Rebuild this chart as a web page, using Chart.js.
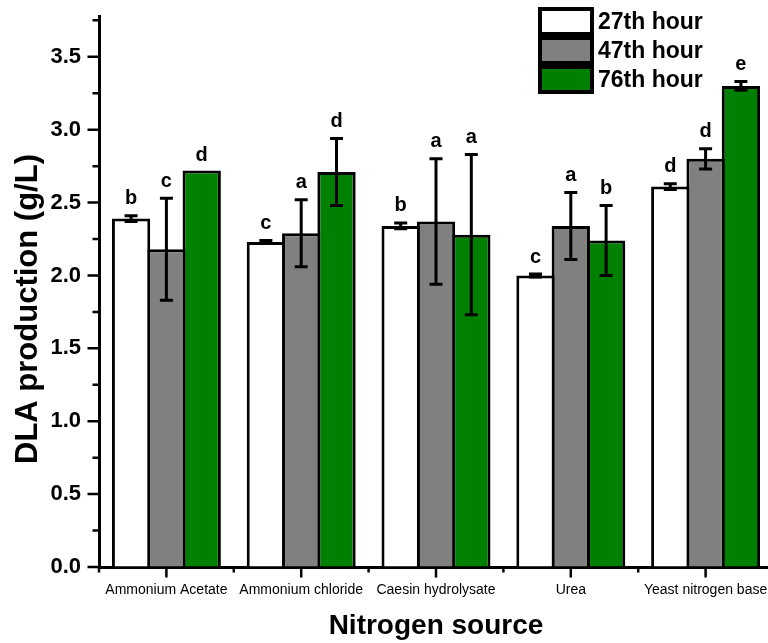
<!DOCTYPE html>
<html>
<head>
<meta charset="utf-8">
<script src="https://cdn.jsdelivr.net/npm/chart.js@4.4.1/dist/chart.umd.min.js"></script>
<style>
  html, body { margin: 0; padding: 0; background: #ffffff; overflow: hidden; }
  #wrap { position: relative; width: 780px; height: 643px; }
</style>
</head>
<body>
<div id="wrap"><canvas id="chart"></canvas></div>
<script>
// Nitrogen sources on the x axis
const categories = ['Ammonium Acetate', 'Ammonium chloride', 'Caesin hydrolysate', 'Urea', 'Yeast nitrogen base'];
const seriesLabels = ['27th hour', '47th hour', '76th hour'];

// DLA production (g/L), mean and error per sampling time
const hour27 = [2.39, 2.23, 2.34, 2.00, 2.61];
const hour27Err = [0.02, 0.01, 0.02, 0.01, 0.02];
const hour47 = [2.18, 2.29, 2.37, 2.34, 2.80];
const hour47Err = [0.35, 0.23, 0.43, 0.23, 0.07];
const hour76 = [2.72, 2.71, 2.28, 2.24, 3.30];
const hour76Err = [0.00, 0.23, 0.55, 0.24, 0.03];

// significance letters above each bar
const letters27 = ['b', 'c', 'b', 'c', 'd'];
const letters47 = ['c', 'a', 'a', 'a', 'd'];
const letters76 = ['d', 'd', 'a', 'b', 'e'];

const yMin = 0;
const yMax = 3.78;
const yStep = 0.25;

const FONT = "'Liberation Sans', Arial, Helvetica, sans-serif";

const seriesData = [hour27, hour47, hour76];
const seriesErr = [hour27Err, hour47Err, hour76Err];
const seriesLetters = [letters27, letters47, letters76];
const seriesColors = ['#ffffff', '#808080', '#008000'];

const datasets = seriesLabels.map((label, k) => ({
  label: label,
  data: seriesData[k],
  err: seriesErr[k],
  letters: seriesLetters[k],
  backgroundColor: seriesColors[k],
  borderColor: '#000000',
  borderWidth: 3,
  borderSkipped: 'bottom',
  categoryPercentage: 0.786,
  barPercentage: 1.085
}));

const isMultiple = (v, step) => Math.abs(v / step - Math.round(v / step)) < 1e-6;

// error bars and letters drawn on top of the bars
const errorBarsPlugin = {
  id: 'errorBars',
  afterDatasetsDraw(chart) {
    const ctx = chart.ctx;
    const y = chart.scales.y;
    ctx.save();
    chart.data.datasets.forEach((ds, di) => {
      const meta = chart.getDatasetMeta(di);
      meta.data.forEach((bar, i) => {
        const v = ds.data[i];
        const e = ds.err[i];
        const x = bar.x;
        let top = y.getPixelForValue(v);
        if (e > 0) {
          const hi = y.getPixelForValue(v + e);
          const lo = y.getPixelForValue(v - e);
          ctx.strokeStyle = '#000000';
          ctx.lineWidth = 3;
          ctx.lineCap = 'butt';
          ctx.beginPath();
          ctx.moveTo(x, hi); ctx.lineTo(x, lo);
          ctx.moveTo(x - 6.5, hi); ctx.lineTo(x + 6.5, hi);
          ctx.moveTo(x - 6.5, lo); ctx.lineTo(x + 6.5, lo);
          ctx.stroke();
          top = hi - 1.5;
        }
        ctx.fillStyle = '#000000';
        ctx.font = 'bold 20px ' + FONT;
        ctx.textAlign = 'center';
        ctx.textBaseline = 'alphabetic';
        ctx.fillText(ds.letters[i], x, top - 10);
      });
    });
    ctx.restore();
  }
};

// outward tick marks, y title and stacked legend
const decorPlugin = {
  id: 'decor',
  afterDraw(chart) {
    const ctx = chart.ctx;
    const xs = chart.scales.x;
    const ys = chart.scales.y;
    const area = chart.chartArea;
    ctx.save();
    ctx.strokeStyle = '#000000';
    ctx.lineWidth = 2.5;
    ctx.beginPath();
    ys.ticks.forEach(t => {
      if (!isMultiple(t.value, yStep)) return;
      const py = ys.getPixelForValue(t.value);
      const len = isMultiple(t.value, 0.5) ? 10 : 5;
      ctx.moveTo(area.left - 1.5 - len, py);
      ctx.lineTo(area.left, py);
    });
    for (let i = 0; i < categories.length; i++) {
      const px = xs.getPixelForValue(i);
      ctx.moveTo(px, area.bottom);
      ctx.lineTo(px, area.bottom + 1.5 + 9);
    }
    for (let i = 0; i <= categories.length; i++) {
      const px = xs.getPixelForValue(i - 0.5);
      ctx.moveTo(px, area.bottom);
      ctx.lineTo(px, area.bottom + 1.5 + 4);
    }
    ctx.stroke();

    // y axis title
    ctx.save();
    ctx.translate(28, 309);
    ctx.rotate(-Math.PI / 2);
    ctx.fillStyle = '#000000';
    ctx.font = 'bold 31px ' + FONT;
    ctx.textAlign = 'center';
    ctx.textBaseline = 'middle';
    ctx.fillText('DLA production (g/L)', 0, 0);
    ctx.restore();

    // legend
    const bx = 540, by = 9, bw = 52, bh = 25, gap = 29;
    chart.data.datasets.forEach((ds, k) => {
      const yy = by + k * gap;
      ctx.fillStyle = ds.backgroundColor;
      ctx.fillRect(bx, yy, bw, bh);
      ctx.lineWidth = 4;
      ctx.strokeStyle = '#000000';
      ctx.strokeRect(bx, yy, bw, bh);
      ctx.fillStyle = '#000000';
      ctx.font = 'bold 23px ' + FONT;
      ctx.textAlign = 'left';
      ctx.textBaseline = 'middle';
      ctx.fillText(ds.label, 598, yy + bh / 2 + 1);
    });
    ctx.restore();
  }
};

new Chart(document.getElementById('chart'), {
  type: 'bar',
  data: { labels: categories, datasets: datasets },
  options: {
    responsive: true,
    maintainAspectRatio: false,
    animation: false,
    devicePixelRatio: 1,
    layout: { padding: { left: 0, top: 16, right: 7, bottom: 0 } },
    plugins: {
      legend: { display: false },
      tooltip: { enabled: false }
    },
    scales: {
      x: {
        type: 'category',
        offset: true,
        z: 1,
        grid: { display: true, drawOnChartArea: false, drawTicks: false, color: 'rgba(0,0,0,0)' },
        border: { display: true, width: 3, color: '#000000' },
        ticks: {
          color: '#000000',
          font: { family: FONT, size: 14 },
          padding: 15,
          maxRotation: 0,
          minRotation: 0,
          autoSkip: false
        },
        title: {
          display: true,
          text: 'Nitrogen source',
          color: '#000000',
          font: { family: FONT, size: 28, weight: 'bold' },
          padding: { top: 0, bottom: 0 }
        },
        afterFit: s => { s.height = 76; s.paddingLeft = 0; s.paddingRight = 0; }
      },
      y: {
        min: yMin,
        max: yMax,
        z: 1,
        grid: { display: true, drawOnChartArea: false, drawTicks: false, color: 'rgba(0,0,0,0)' },
        border: { display: true, width: 3, color: '#000000' },
        ticks: {
          stepSize: yStep,
          includeBounds: false,
          autoSkip: false,
          color: '#000000',
          font: { family: FONT, size: 22, weight: 'bold' },
          padding: 18,
          callback: v => isMultiple(v, 0.5) ? Number(v).toFixed(1) : ''
        },
        afterFit: s => { s.width = 99; s.paddingTop = 0; s.paddingBottom = 0; }
      }
    }
  },
  plugins: [errorBarsPlugin, decorPlugin]
});
</script>
</body>
</html>
